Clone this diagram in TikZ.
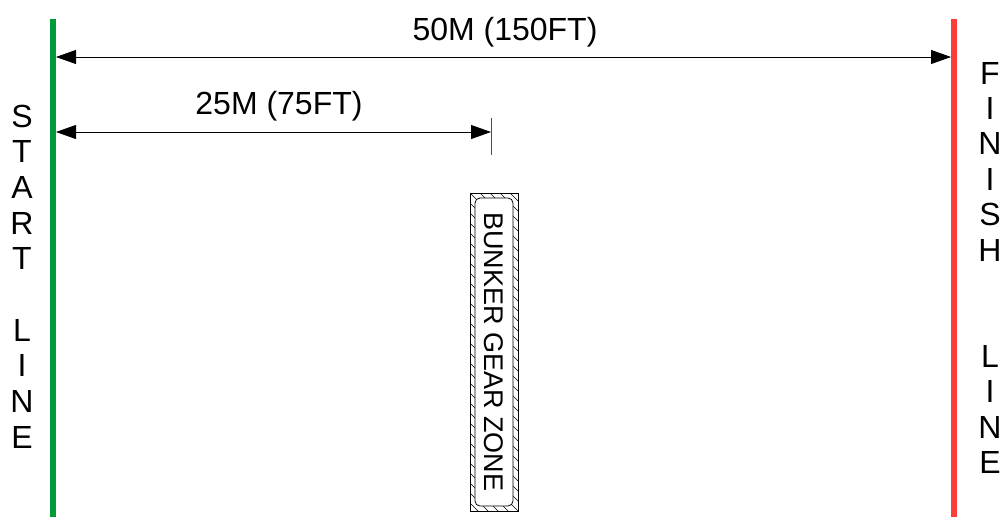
\documentclass[tikz,border=0pt]{standalone}
\usepackage{fontspec}
\setmainfont{Liberation Sans}
\usetikzlibrary{arrows.meta}
\definecolor{startgreen}{HTML}{009A3A}
\definecolor{finishred}{HTML}{FF3C3C}
\tikzset{
  lanefont/.style={font=\fontsize{32}{38}\selectfont},
  letter/.style={lanefont, anchor=base, inner sep=0pt},
  lane/.style={line width=6pt},
  dim/.style={{Triangle[length=20pt, width=14pt]}-{Triangle[length=20pt, width=14pt]}, line width=.8pt},
  label/.style={lanefont, anchor=base, inner sep=0pt},
}
\begin{document}
\begin{tikzpicture}[x=1pt, y=-1pt]
  \useasboundingbox (0,0) rectangle (1004,517);
  % start and finish lines
  \coordinate (startTop) at (53,19);
  \coordinate (startBot) at (53,517);
  \coordinate (finishTop) at (954,19);
  \coordinate (finishBot) at (954,517);
  \draw[lane, startgreen] (startTop) -- (startBot);
  \draw[lane, finishred] (finishTop) -- (finishBot);
  % dimension arrows
  \coordinate (full0) at (56,57);
  \coordinate (full1) at (951,57);
  \coordinate (half0) at (56,132);
  \coordinate (half1) at (491,132);
  \coordinate (tickTop) at (491,118);
  \coordinate (tickBot) at (491,155);
  \draw[dim] (full0) -- (full1);
  \draw[dim] (half0) -- (half1);
  \draw[line width=.8pt, black!70] (tickTop) -- (tickBot);
  \node[label] (fullLabel) at (505,40) {50M (150FT)};
  \node[label] (halfLabel) at (279,114) {25M (75FT)};
  % vertical lettering
  \foreach \ch [count=\n from 0] in {S,T,A,R,T,{},L,I,N,E}
    \node[letter] (st\n) at (22,127+35.7*\n) {\ch};
  \foreach \ch [count=\n from 0] in {F,I,N,I,S,H,{},{},L,I,N,E}
    \node[letter] (fi\n) at (990,84+35.4*\n) {\ch};
  % bunker gear zone
  \begin{scope}
    \clip (470,193) rectangle (518,511);
    \foreach \k in {143,153,...,511}
      \draw[line width=.7pt] (470,\k) -- ++(60,60);
  \end{scope}
  \draw[line width=.8pt] (470,193) rectangle (518,511);
  \draw[line width=.8pt, fill=white, rounded corners=5pt] (475,198) rectangle (513,506);
  \node[font=\fontsize{27}{32}\selectfont, rotate=-90, inner sep=0pt] (bunker) at (494,352) {BUNKER GEAR ZONE};
\end{tikzpicture}
\end{document}
